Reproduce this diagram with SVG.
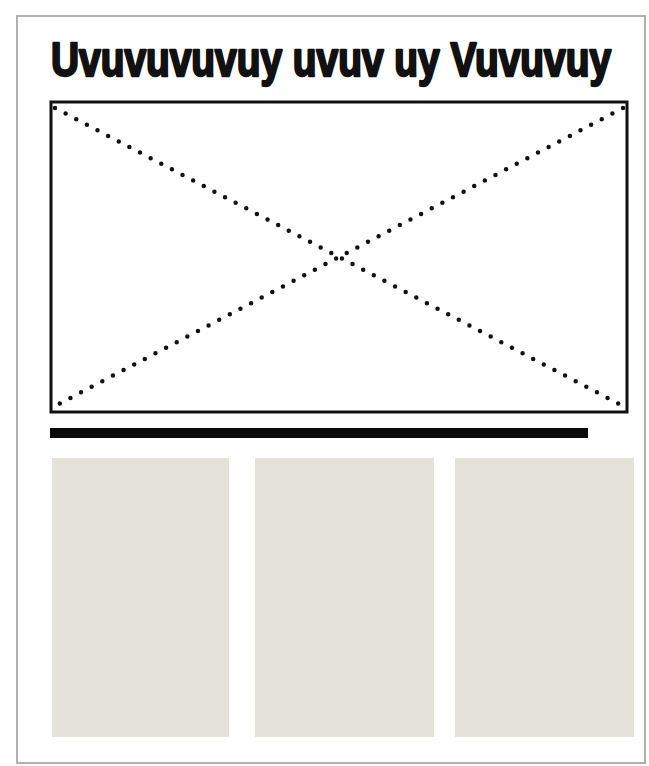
<svg xmlns="http://www.w3.org/2000/svg" width="649" height="766" viewBox="0 0 649 766">
<style>
.frame{fill:none;stroke:#b0b0b0;stroke-width:2}
.title{font-family:"Liberation Sans",Arial,sans-serif;font-weight:bold;font-size:48px;fill:#111;stroke:#111;stroke-width:2.4;stroke-linejoin:round}
.box{fill:#fff;stroke:#111;stroke-width:3}
.dots{stroke:#111;stroke-width:4.5;stroke-linecap:round;stroke-dasharray:0 12;fill:none}
.col{fill:#e5e3d9}
</style>
<rect width="649" height="766" fill="#fff"/>
<rect class="frame" x="17" y="16" width="628" height="747"/>
<g id="title">
<text class="title" transform="translate(51 76) scale(0.78 1)" x="0" y="0" textLength="718" lengthAdjust="spacingAndGlyphs">Uvuvuvuvuy uvuv uy Vuvuvuy</text>
</g>
<g id="image-box">
<rect class="box" x="51" y="102" width="576" height="310"/>
<line class="dots" x1="55" y1="108" x2="623" y2="406"/>
<line class="dots" x1="623" y1="108" x2="55" y2="406"/>
</g>
<g id="rule">
<rect x="50" y="428" width="538" height="10" fill="#0a0a0a"/>
</g>
<g id="column-1"><rect class="col" x="52" y="458" width="177" height="279"/></g>
<g id="column-2"><rect class="col" x="255" y="458" width="179" height="279"/></g>
<g id="column-3"><rect class="col" x="455" y="458" width="179" height="279"/></g>
<g id="connectors"/>
</svg>
